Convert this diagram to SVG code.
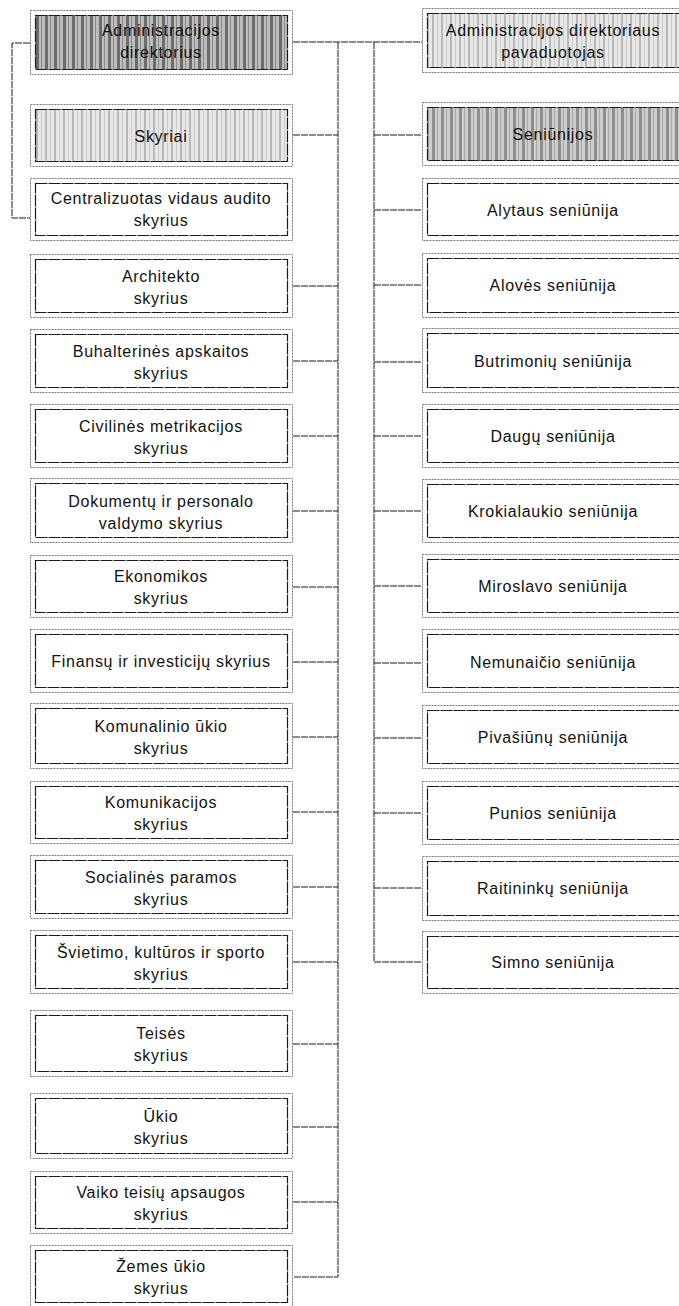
<svg xmlns="http://www.w3.org/2000/svg" width="679" height="1306" viewBox="0 0 679 1306">
<style>
.o{fill:#fff;stroke:#777;stroke-width:1;stroke-dasharray:2,1}
.i{fill:none;stroke:#1a1a1a;stroke-width:1.2;stroke-dasharray:12,1}
.t{font-family:"Liberation Sans",Arial,sans-serif;font-size:16px;letter-spacing:0.7px;fill:#111;text-anchor:middle}
.c{fill:none;stroke:#1a1a1a;stroke-width:1;stroke-dasharray:7,1}
</style>
<defs>
<pattern id="pDark" patternUnits="userSpaceOnUse" width="9" height="4">
<rect width="9" height="4" fill="#bdbdbd"/>
<rect x="0" width="3" height="4" fill="#6c6c6c"/>
<rect x="5" width="1" height="4" fill="#8a8a8a"/>
</pattern>
<pattern id="pMid" patternUnits="userSpaceOnUse" width="9" height="4">
<rect width="9" height="4" fill="#cdcdcd"/>
<rect x="0" width="3" height="4" fill="#8e8e8e"/>
<rect x="5" width="1" height="4" fill="#a8a8a8"/>
</pattern>
<pattern id="pLight" patternUnits="userSpaceOnUse" width="9" height="4">
<rect width="9" height="4" fill="#e8e8e8"/>
<rect x="0" width="2" height="4" fill="#b8b8b8"/>
<rect x="5" width="1" height="4" fill="#cccccc"/>
</pattern>
</defs>

<g id="connectors">
<path class="c" d="M293,42 H422"/>
<path class="c" d="M30,43 H12 V218 H30"/>
<path class="c" d="M338,42 V1277 H293"/>
<path class="c" d="M374,42 V962 H422"/>
<path class="c" d="M293,135 H338"/>
<path class="c" d="M293,286 H338"/>
<path class="c" d="M293,361 H338"/>
<path class="c" d="M293,436 H338"/>
<path class="c" d="M293,511 H338"/>
<path class="c" d="M293,587 H338"/>
<path class="c" d="M293,662 H338"/>
<path class="c" d="M293,737 H338"/>
<path class="c" d="M293,812 H338"/>
<path class="c" d="M293,887 H338"/>
<path class="c" d="M293,962 H338"/>
<path class="c" d="M293,1044 H338"/>
<path class="c" d="M293,1127 H338"/>
<path class="c" d="M293,1202 H338"/>
<path class="c" d="M374,135 H422"/>
<path class="c" d="M374,210 H422"/>
<path class="c" d="M374,285 H422"/>
<path class="c" d="M374,362 H422"/>
<path class="c" d="M374,436 H422"/>
<path class="c" d="M374,511 H422"/>
<path class="c" d="M374,586 H422"/>
<path class="c" d="M374,663 H422"/>
<path class="c" d="M374,738 H422"/>
<path class="c" d="M374,813 H422"/>
<path class="c" d="M374,888 H422"/>
</g>

<g id="n-admin">
<rect class="o" x="30.5" y="10.5" width="262" height="64"/>
<rect x="35.5" y="15.5" width="252" height="54" fill="url(#pDark)" stroke="#1a1a1a" stroke-width="1.2" stroke-dasharray="12,1"/>
<text class="t" x="161" y="36">Administracijos</text>
<text class="t" x="161" y="58">direktorius</text>
</g>
<g id="n-skyriai">
<rect class="o" x="30.5" y="104.5" width="262" height="62"/>
<rect x="35.5" y="109.5" width="252" height="52" fill="url(#pLight)" stroke="#1a1a1a" stroke-width="1.2" stroke-dasharray="12,1"/>
<text class="t" x="161" y="142">Skyriai</text>
</g>
<g id="n-centr">
<rect class="o" x="30.5" y="178.5" width="262" height="62"/>
<rect class="i" x="35.5" y="183.5" width="252" height="52"/>
<text class="t" x="161" y="204">Centralizuotas vidaus audito</text>
<text class="t" x="161" y="226">skyrius</text>
</g>
<g id="n-arch">
<rect class="o" x="30.5" y="254.5" width="262" height="63"/>
<rect class="i" x="35.5" y="259.5" width="252" height="53"/>
<text class="t" x="161" y="282">Architekto</text>
<text class="t" x="161" y="304">skyrius</text>
</g>
<g id="n-buh">
<rect class="o" x="30.5" y="329.5" width="262" height="63"/>
<rect class="i" x="35.5" y="334.5" width="252" height="53"/>
<text class="t" x="161" y="357">Buhalterinės apskaitos</text>
<text class="t" x="161" y="379">skyrius</text>
</g>
<g id="n-civ">
<rect class="o" x="30.5" y="404.5" width="262" height="63"/>
<rect class="i" x="35.5" y="409.5" width="252" height="53"/>
<text class="t" x="161" y="432">Civilinės metrikacijos</text>
<text class="t" x="161" y="454">skyrius</text>
</g>
<g id="n-dok">
<rect class="o" x="30.5" y="478.5" width="262" height="64"/>
<rect class="i" x="35.5" y="483.5" width="252" height="54"/>
<text class="t" x="161" y="507">Dokumentų ir personalo</text>
<text class="t" x="161" y="529">valdymo skyrius</text>
</g>
<g id="n-ekon">
<rect class="o" x="30.5" y="555.5" width="262" height="62"/>
<rect class="i" x="35.5" y="560.5" width="252" height="52"/>
<text class="t" x="161" y="582">Ekonomikos</text>
<text class="t" x="161" y="604">skyrius</text>
</g>
<g id="n-fin">
<rect class="o" x="30.5" y="629.5" width="262" height="63"/>
<rect class="i" x="35.5" y="634.5" width="252" height="53"/>
<text class="t" x="161" y="667">Finansų ir investicijų skyrius</text>
</g>
<g id="n-kom">
<rect class="o" x="30.5" y="703.5" width="262" height="65"/>
<rect class="i" x="35.5" y="708.5" width="252" height="55"/>
<text class="t" x="161" y="732">Komunalinio ūkio</text>
<text class="t" x="161" y="754">skyrius</text>
</g>
<g id="n-komun">
<rect class="o" x="30.5" y="781.5" width="262" height="62"/>
<rect class="i" x="35.5" y="786.5" width="252" height="52"/>
<text class="t" x="161" y="808">Komunikacijos</text>
<text class="t" x="161" y="830">skyrius</text>
</g>
<g id="n-soc">
<rect class="o" x="30.5" y="855.5" width="262" height="63"/>
<rect class="i" x="35.5" y="860.5" width="252" height="53"/>
<text class="t" x="161" y="883">Socialinės paramos</text>
<text class="t" x="161" y="905">skyrius</text>
</g>
<g id="n-svi">
<rect class="o" x="30.5" y="930.5" width="262" height="63"/>
<rect class="i" x="35.5" y="935.5" width="252" height="53"/>
<text class="t" x="161" y="958">Švietimo, kultūros ir sporto</text>
<text class="t" x="161" y="980">skyrius</text>
</g>
<g id="n-teis">
<rect class="o" x="30.5" y="1010.5" width="262" height="66"/>
<rect class="i" x="35.5" y="1015.5" width="252" height="56"/>
<text class="t" x="161" y="1039">Teisės</text>
<text class="t" x="161" y="1061">skyrius</text>
</g>
<g id="n-ukio">
<rect class="o" x="30.5" y="1093.5" width="262" height="65"/>
<rect class="i" x="35.5" y="1098.5" width="252" height="55"/>
<text class="t" x="161" y="1122">Ūkio</text>
<text class="t" x="161" y="1144">skyrius</text>
</g>
<g id="n-vaiko">
<rect class="o" x="30.5" y="1171.5" width="262" height="62"/>
<rect class="i" x="35.5" y="1176.5" width="252" height="52"/>
<text class="t" x="161" y="1198">Vaiko teisių apsaugos</text>
<text class="t" x="161" y="1220">skyrius</text>
</g>
<g id="n-zemes">
<rect class="o" x="30.5" y="1245.5" width="262" height="62"/>
<rect class="i" x="35.5" y="1250.5" width="252" height="52"/>
<text class="t" x="161" y="1272">Žemes ūkio</text>
<text class="t" x="161" y="1294">skyrius</text>
</g>

<g id="n-deputy">
<rect class="o" x="422.5" y="8.5" width="263" height="64"/>
<rect x="427.5" y="13.5" width="253" height="54" fill="url(#pLight)" stroke="#1a1a1a" stroke-width="1.2" stroke-dasharray="12,1"/>
<text class="t" x="553" y="36">Administracijos direktoriaus</text>
<text class="t" x="553" y="58">pavaduotojas</text>
</g>
<g id="n-sen">
<rect class="o" x="422.5" y="102.5" width="263" height="63"/>
<rect x="427.5" y="107.5" width="253" height="53" fill="url(#pMid)" stroke="#1a1a1a" stroke-width="1.2" stroke-dasharray="12,1"/>
<text class="t" x="553" y="140">Seniūnijos</text>
</g>
<g id="n-alyt">
<rect class="o" x="422.5" y="178.5" width="263" height="62"/>
<rect class="i" x="427.5" y="183.5" width="253" height="52"/>
<text class="t" x="553" y="216">Alytaus seniūnija</text>
</g>
<g id="n-alov">
<rect class="o" x="422.5" y="253.5" width="263" height="64"/>
<rect class="i" x="427.5" y="258.5" width="253" height="54"/>
<text class="t" x="553" y="291">Alovės seniūnija</text>
</g>
<g id="n-butr">
<rect class="o" x="422.5" y="328.5" width="263" height="64"/>
<rect class="i" x="427.5" y="333.5" width="253" height="54"/>
<text class="t" x="553" y="367">Butrimonių seniūnija</text>
</g>
<g id="n-daug">
<rect class="o" x="422.5" y="404.5" width="263" height="63"/>
<rect class="i" x="427.5" y="409.5" width="253" height="53"/>
<text class="t" x="553" y="442">Daugų seniūnija</text>
</g>
<g id="n-krok">
<rect class="o" x="422.5" y="479.5" width="263" height="63"/>
<rect class="i" x="427.5" y="484.5" width="253" height="53"/>
<text class="t" x="553" y="517">Krokialaukio seniūnija</text>
</g>
<g id="n-mir">
<rect class="o" x="422.5" y="554.5" width="263" height="63"/>
<rect class="i" x="427.5" y="559.5" width="253" height="53"/>
<text class="t" x="553" y="592">Miroslavo seniūnija</text>
</g>
<g id="n-nem">
<rect class="o" x="422.5" y="629.5" width="263" height="63"/>
<rect class="i" x="427.5" y="634.5" width="253" height="53"/>
<text class="t" x="553" y="668">Nemunaičio seniūnija</text>
</g>
<g id="n-piv">
<rect class="o" x="422.5" y="705.5" width="263" height="63"/>
<rect class="i" x="427.5" y="710.5" width="253" height="53"/>
<text class="t" x="553" y="743">Pivašiūnų seniūnija</text>
</g>
<g id="n-pun">
<rect class="o" x="422.5" y="781.5" width="263" height="63"/>
<rect class="i" x="427.5" y="786.5" width="253" height="53"/>
<text class="t" x="553" y="819">Punios seniūnija</text>
</g>
<g id="n-rait">
<rect class="o" x="422.5" y="856.5" width="263" height="64"/>
<rect class="i" x="427.5" y="861.5" width="253" height="54"/>
<text class="t" x="553" y="894">Raitininkų seniūnija</text>
</g>
<g id="n-simn">
<rect class="o" x="422.5" y="931.5" width="263" height="62"/>
<rect class="i" x="427.5" y="936.5" width="253" height="52"/>
<text class="t" x="553" y="968">Simno seniūnija</text>
</g>
</svg>
